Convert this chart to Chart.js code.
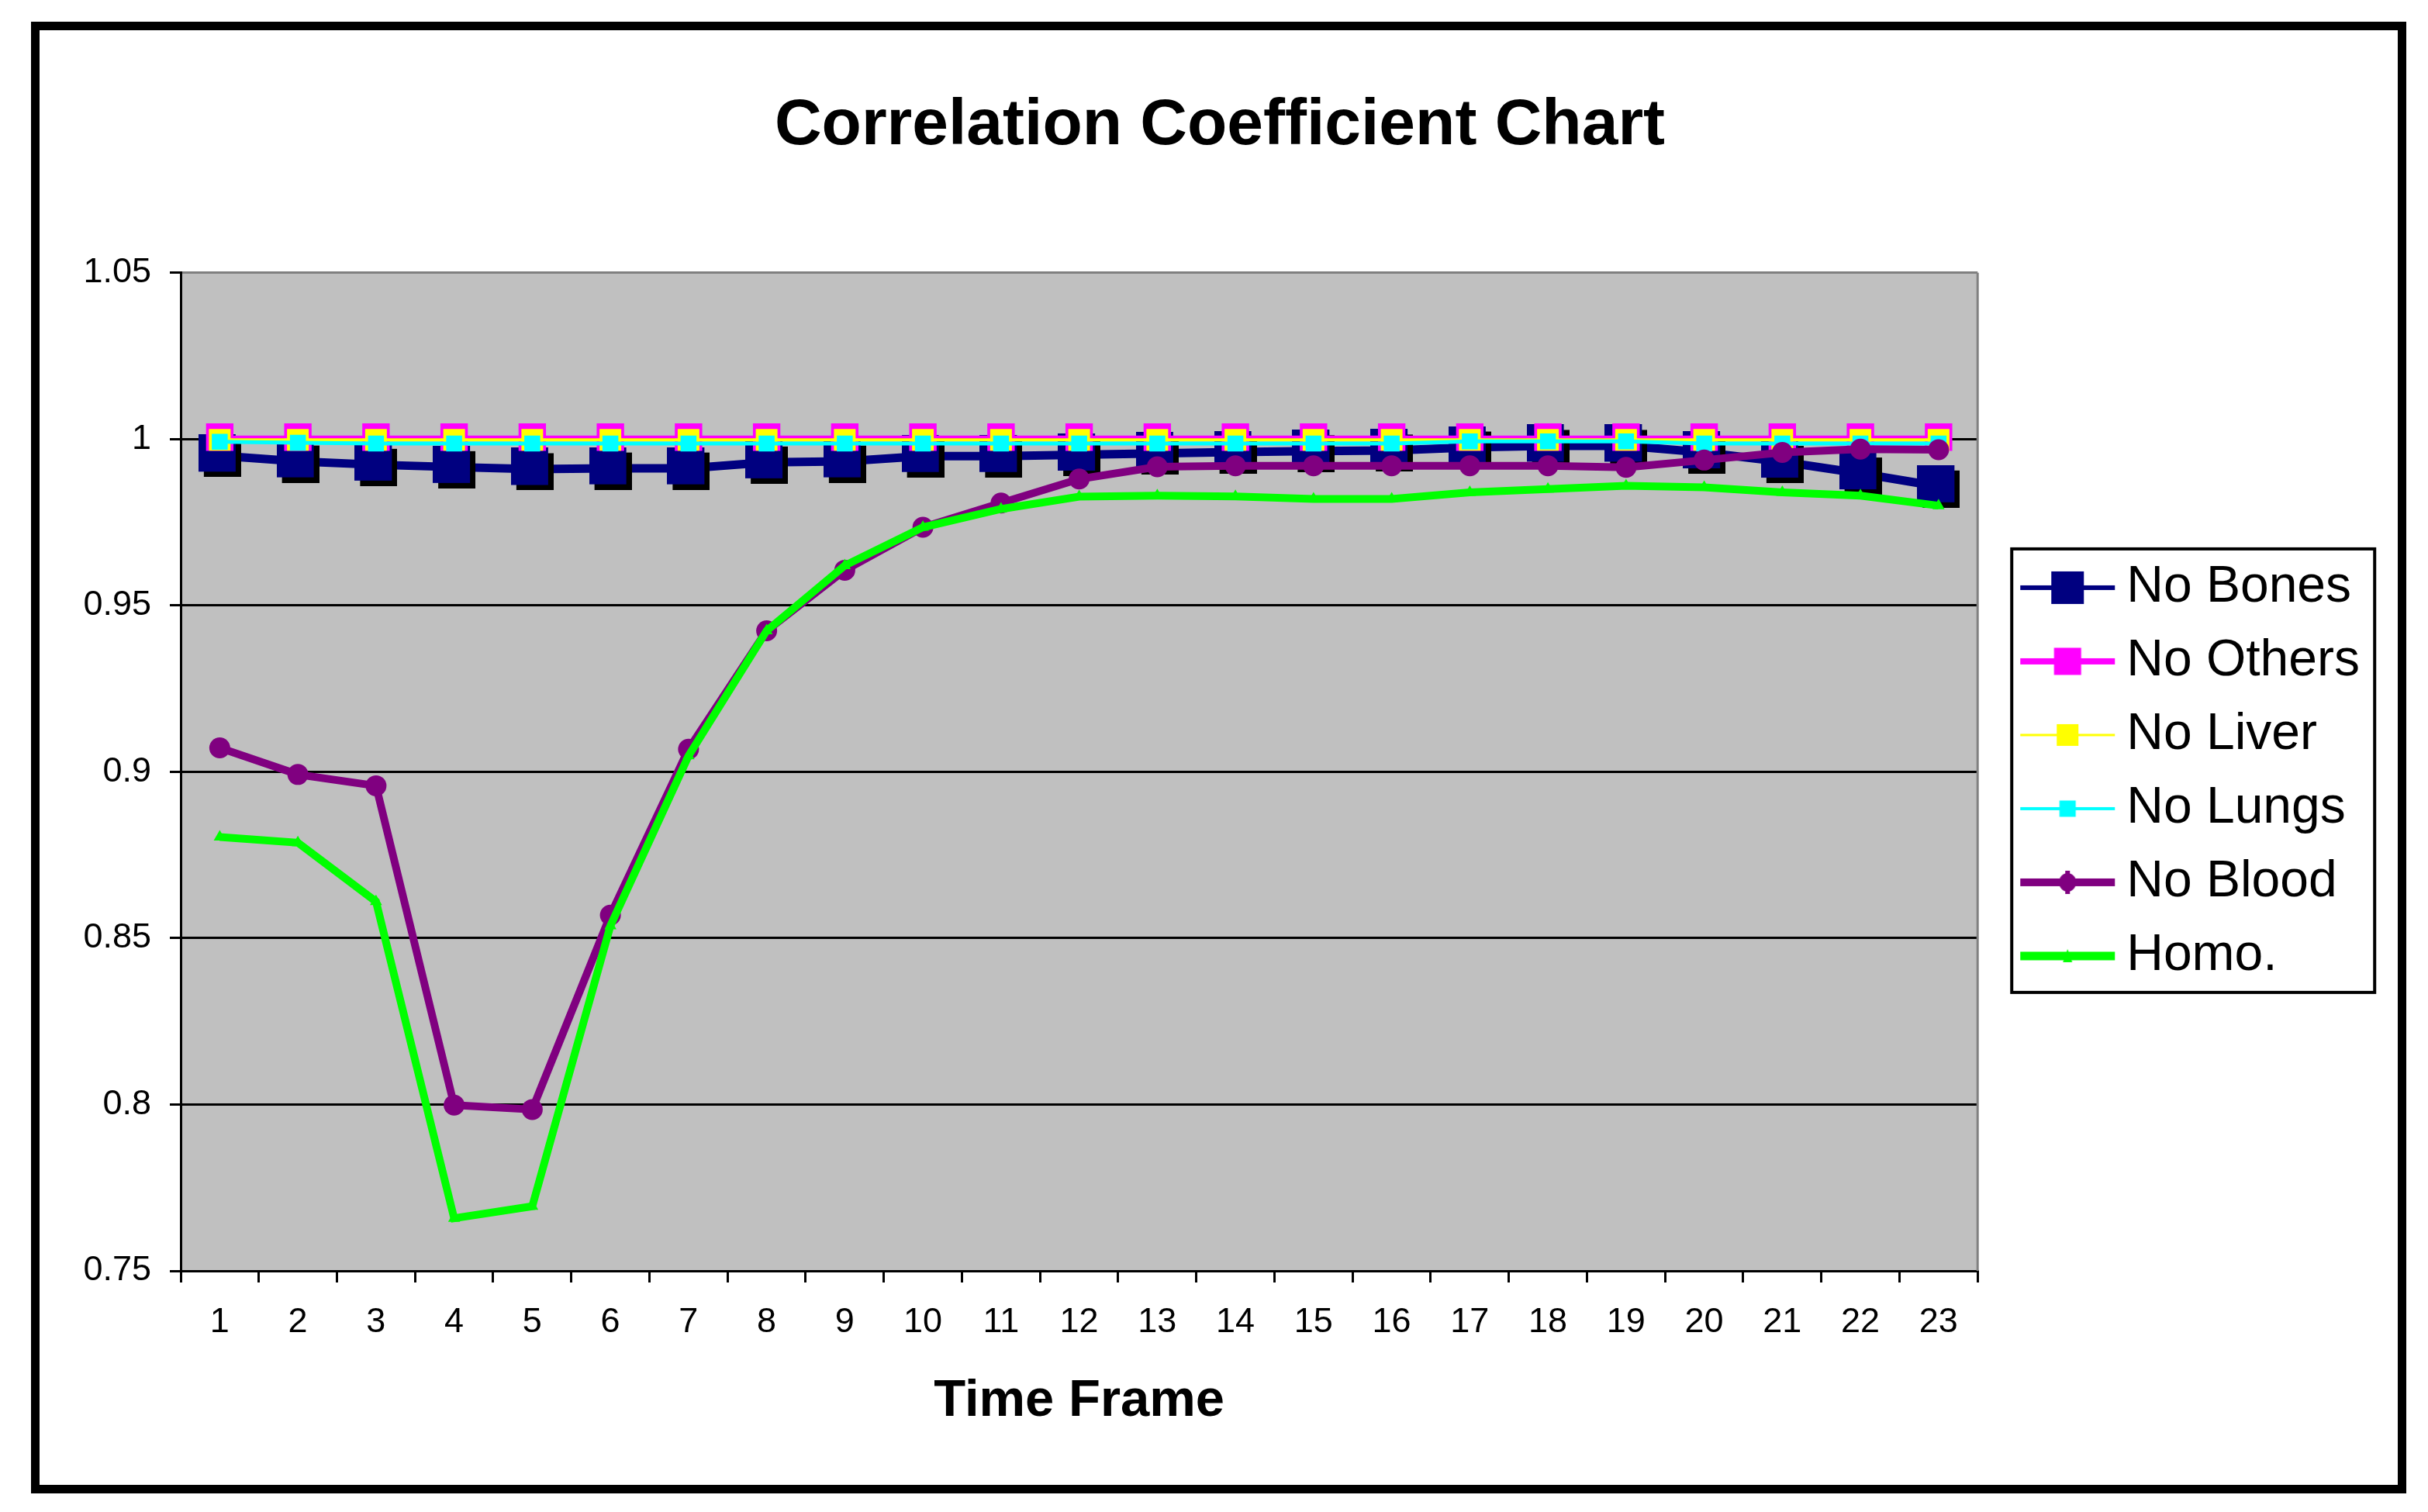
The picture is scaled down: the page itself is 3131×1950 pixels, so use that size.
<!DOCTYPE html>
<html>
<head>
<meta charset="utf-8">
<title>Correlation Coefficient Chart</title>
<style>
  html, body { margin: 0; padding: 0; background: #fff; }
  #wrap { width: 3131px; height: 1950px; }
</style>
</head>
<body>
<div id="wrap"><canvas id="corr-chart" width="3131" height="1950"></canvas></div>
<script src="https://cdn.jsdelivr.net/npm/chart.js@4.4.1/dist/chart.umd.min.js"></script>
<script>
const timeFrames = ["1", "2", "3", "4", "5", "6", "7", "8", "9", "10", "11", "12",
  "13", "14", "15", "16", "17", "18", "19", "20", "21", "22", "23"];

const noBones = [0.995, 0.9933, 0.9923, 0.9916, 0.991, 0.9912, 0.9912, 0.993, 0.9933, 0.9949, 0.9949, 0.9953,
  0.9957, 0.9961, 0.9964, 0.9966, 0.9975, 0.998, 0.998, 0.996, 0.9932, 0.9897, 0.9858];
const noOthers = [1.0006, 1.0006, 1.0006, 1.0006, 1.0006, 1.0006, 1.0006, 1.0006, 1.0006, 1.0006, 1.0006, 1.0006,
  1.0006, 1.0006, 1.0006, 1.0006, 1.0006, 1.0006, 1.0006, 1.0006, 1.0006, 1.0006, 1.0006];
const noLiver = [0.9998, 0.9998, 0.9998, 0.9998, 0.9998, 0.9998, 0.9998, 0.9998, 0.9998, 0.9998, 0.9998, 0.9998,
  0.9998, 0.9998, 0.9998, 0.9998, 0.9998, 0.9998, 0.9998, 0.9998, 0.9998, 0.9998, 0.9998];
const noLungs = [0.9992, 0.9989, 0.9987, 0.9987, 0.9987, 0.9987, 0.9987, 0.9987, 0.9987, 0.9987, 0.9987, 0.9987,
  0.9987, 0.9987, 0.9987, 0.9987, 0.9993, 0.9993, 0.9993, 0.9987, 0.9987, 0.9987, 0.9987];
const noBlood = [0.9072, 0.8992, 0.8958, 0.7998, 0.7985, 0.8569, 0.9068, 0.9424, 0.9606, 0.9735, 0.9808, 0.988,
  0.9917, 0.992, 0.992, 0.992, 0.992, 0.992, 0.9915, 0.9937, 0.996, 0.997, 0.9968];
const homo = [0.8804, 0.8787, 0.861, 0.7658, 0.7694, 0.8537, 0.9048, 0.9424, 0.962, 0.9735, 0.979, 0.9827,
  0.983, 0.9828, 0.982, 0.982, 0.984, 0.985, 0.986, 0.9855, 0.984, 0.983, 0.98];

const yTickValues = [0.75, 0.8, 0.85, 0.9, 0.95, 1, 1.05];
const yTickLabels = ["0.75", "0.8", "0.85", "0.9", "0.95", "1", "1.05"];

Chart.defaults.font.family = '"Liberation Sans", Arial, sans-serif';
Chart.defaults.color = "#000";

// navy square with the black drop shadow excel puts on it
const bonesMarker = document.createElement("canvas");
bonesMarker.width = 55;
bonesMarker.height = 55;
{
  const g = bonesMarker.getContext("2d");
  g.fillStyle = "#000";
  g.fillRect(7, 7, 48, 48);
  g.fillStyle = "#000080";
  g.fillRect(0, 0, 48, 48);
}

function legendIcon(color, lineWidth, drawMarker) {
  const c = document.createElement("canvas");
  c.width = 180;
  c.height = 50;
  const g = c.getContext("2d");
  g.fillStyle = color;
  g.fillRect(51, 25 - lineWidth / 2, 122, lineWidth);
  drawMarker(g, 112, 25);
  return c;
}
const square = (size) => (g, x, y) => g.fillRect(x - size / 2, y - size / 2, size, size);

const legendIcons = [
  legendIcon("#000080", 6, square(42)),
  legendIcon("#FF00FF", 8, square(35)),
  legendIcon("#FFFF00", 3, square(28)),
  legendIcon("#00FFFF", 4, square(21)),
  legendIcon("#800080", 10, (g, x, y) => {
    g.beginPath();
    g.ellipse(x, y, 11, 12, 0, 0, Math.PI * 2);
    g.fill();
    g.fillRect(x - 3, y - 15, 6, 30);
  }),
  legendIcon("#00FF00", 11, (g, x, y) => {
    g.beginPath();
    g.moveTo(x, y - 9);
    g.lineTo(x + 6, y + 8);
    g.lineTo(x - 6, y + 8);
    g.fill();
  })
];

const chartDecor = {
  id: "chartDecor",
  beforeDraw(chart) {
    const { ctx, chartArea: a } = chart;
    ctx.save();
    ctx.fillStyle = "#fff";
    ctx.fillRect(0, 0, chart.width, chart.height);
    ctx.fillStyle = "#C0C0C0";
    ctx.fillRect(a.left, a.top, a.right - a.left, a.bottom - a.top);
    ctx.restore();
  },
  beforeDatasetsDraw(chart) {
    const { ctx, chartArea: a } = chart;
    ctx.save();
    ctx.strokeStyle = "#808080";
    ctx.lineWidth = 3;
    ctx.beginPath();
    ctx.moveTo(a.right, a.top);
    ctx.lineTo(a.right, a.bottom);
    ctx.stroke();
    ctx.restore();
  },
  afterDraw(chart) {
    const ctx = chart.ctx;
    const boxes = chart.legend.legendHitBoxes;
    ctx.save();
    ctx.strokeStyle = "#000";
    if (boxes && boxes.length) {
      const first = boxes[0];
      const last = boxes[boxes.length - 1];
      const top = first.top - 17;
      ctx.lineWidth = 4;
      ctx.strokeRect(first.left + 15, top, 468, last.top + last.height + 14 - top);
    }
    ctx.lineWidth = 11;
    ctx.strokeRect(45.5, 33.5, 3052, 1887);
    ctx.restore();
  }
};

const ctx = document.getElementById("corr-chart").getContext("2d");
new Chart(ctx, {
  type: "line",
  data: {
    labels: timeFrames,
    datasets: [
      {
        label: "No Bones",
        data: noBones,
        borderColor: "#000080",
        backgroundColor: "#000080",
        borderWidth: 11,
        pointStyle: bonesMarker,
        order: 5
      },
      {
        label: "No Others",
        data: noOthers,
        borderColor: "#FF00FF",
        backgroundColor: "#FF00FF",
        borderWidth: 4,
        pointStyle: "rect",
        pointRadius: 25,
        pointBorderWidth: 0,
        order: 4
      },
      {
        label: "No Liver",
        data: noLiver,
        borderColor: "#FFFF00",
        backgroundColor: "#FFFF00",
        borderWidth: 4,
        pointStyle: "rect",
        pointRadius: 19.8,
        pointBorderWidth: 0,
        order: 3
      },
      {
        label: "No Lungs",
        data: noLungs,
        borderColor: "#00FFFF",
        backgroundColor: "#00FFFF",
        borderWidth: 5,
        pointStyle: "rect",
        pointRadius: 14.5,
        pointBorderWidth: 0,
        order: 2
      },
      {
        label: "No Blood",
        data: noBlood,
        borderColor: "#800080",
        backgroundColor: "#800080",
        borderWidth: 10,
        pointStyle: "circle",
        pointRadius: 13.5,
        pointBorderWidth: 0,
        order: 1
      },
      {
        label: "Homo.",
        data: homo,
        borderColor: "#00FF00",
        backgroundColor: "#00FF00",
        borderWidth: 10,
        pointStyle: "triangle",
        pointRadius: 9,
        pointBorderWidth: 0,
        order: 0
      }
    ]
  },
  options: {
    responsive: false,
    animation: false,
    devicePixelRatio: 1,
    layout: { padding: { left: 93, right: 78, top: 40, bottom: 40 } },
    elements: { line: { tension: 0 } },
    plugins: {
      title: {
        display: true,
        text: "Correlation Coefficient Chart",
        font: { size: 84, weight: "bold" },
        color: "#000",
        padding: { top: 72, bottom: 139 }
      },
      legend: {
        position: "right",
        fullSize: false,
        labels: {
          usePointStyle: true,
          pointStyleWidth: 130,
          padding: 29,
          font: { size: 66 },
          color: "#000",
          generateLabels: (chart) => chart.data.datasets.map((ds, i) => ({
            text: ds.label,
            datasetIndex: i,
            pointStyle: legendIcons[i],
            fillStyle: "rgba(0,0,0,0)",
            strokeStyle: "rgba(0,0,0,0)",
            lineWidth: 0,
            hidden: false,
            fontColor: "#000"
          }))
        }
      },
      tooltip: { enabled: false }
    },
    scales: {
      x: {
        offset: true,
        grid: { offset: true, drawOnChartArea: false, tickLength: 15, color: "#000", lineWidth: 3 },
        border: { color: "#000", width: 3 },
        ticks: { font: { size: 45 }, color: "#000", padding: 25, maxRotation: 0, autoSkip: false },
        title: {
          display: true,
          text: "Time Frame",
          font: { size: 67, weight: "bold" },
          color: "#000",
          padding: { top: 0, bottom: 62 }
        },
        afterFit: (scale) => { scale.height = 271; }
      },
      y: {
        min: 0.75,
        max: 1.05,
        afterBuildTicks: (scale) => { scale.ticks = yTickValues.map((value) => ({ value })); },
        ticks: {
          font: { size: 45 },
          color: "#000",
          padding: 24,
          callback: (value, i) => yTickLabels[i]
        },
        grid: {
          color: (c) => (c.tick && c.tick.value === 1.05 ? "#808080" : "#000"),
          tickColor: "#000",
          lineWidth: 3,
          tickLength: 14
        },
        border: { color: "#000", width: 3 },
        afterFit: (scale) => { scale.width = 140; }
      }
    }
  },
  plugins: [chartDecor]
});
</script>
</body>
</html>
